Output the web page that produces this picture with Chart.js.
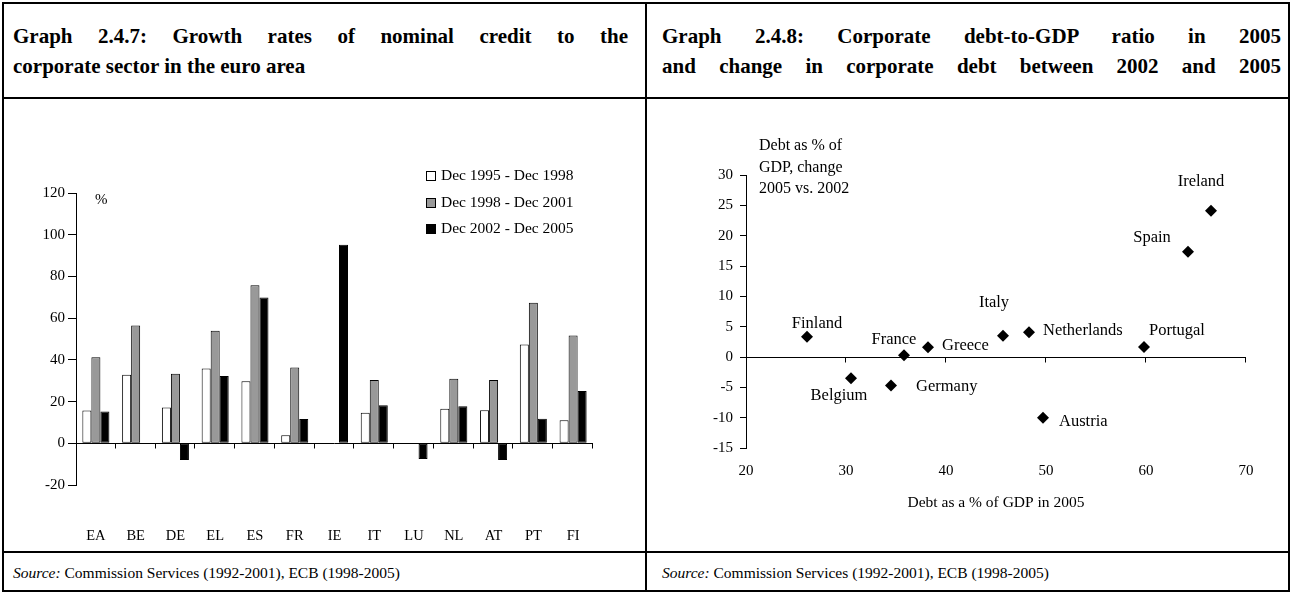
<!DOCTYPE html>
<html>
<head>
<meta charset="utf-8">
<script src="https://cdn.jsdelivr.net/npm/chart.js@4.4.1/dist/chart.umd.min.js"></script>
<style>
  body { margin: 0; width: 1292px; height: 594px; background: #fff; position: relative; overflow: hidden;
         font-family: 'Liberation Serif', 'Times New Roman', serif; color: #000; }
  .line { position: absolute; background: #000; }
  .title { position: absolute; top: 21px; font-weight: bold; font-size: 21px; line-height: 30px; }
  .title div { white-space: nowrap; }
  .title .just { white-space: normal; text-align: justify; text-align-last: justify; }
  .source { position: absolute; top: 564px; font-size: 15.5px; line-height: 18px; white-space: nowrap; }
  canvas { position: absolute; }
</style>
</head>
<body>
<!-- frame -->
<div class="line" style="left:2px;top:2px;width:1288px;height:2px"></div>
<div class="line" style="left:2px;top:590px;width:1288px;height:2px"></div>
<div class="line" style="left:2px;top:2px;width:2px;height:590px"></div>
<div class="line" style="left:1288px;top:2px;width:2px;height:590px"></div>
<div class="line" style="left:645px;top:2px;width:2px;height:590px"></div>
<div class="line" style="left:2px;top:97px;width:1288px;height:2px"></div>
<div class="line" style="left:2px;top:551px;width:1288px;height:2px"></div>

<div class="title" style="left:13px;width:615px">
  <div class="just">Graph 2.4.7: Growth rates of nominal credit to the</div>
  <div>corporate sector in the euro area</div>
</div>
<div class="title" style="left:662px;width:619px">
  <div class="just">Graph 2.4.8: Corporate debt-to-GDP ratio in 2005</div>
  <div class="just">and change in corporate debt between 2002 and 2005</div>
</div>

<canvas id="creditChart" width="640" height="448" style="left:5px;top:100px"></canvas>
<canvas id="debtChart" width="637" height="448" style="left:649px;top:100px"></canvas>

<div class="source" style="left:13px"><i>Source:</i> Commission Services (1992-2001), ECB (1998-2005)</div>
<div class="source" style="left:662px"><i>Source:</i> Commission Services (1992-2001), ECB (1998-2005)</div>

<script>
// ---- Graph 2.4.7 data ----
const categories = ['EA', 'BE', 'DE', 'EL', 'ES', 'FR', 'IE', 'IT', 'LU', 'NL', 'AT', 'PT', 'FI'];
const seriesNames = ['Dec 1995 - Dec 1998', 'Dec 1998 - Dec 2001', 'Dec 2002 - Dec 2005'];
const growth9598 = [15.7, 32.8, 17.1, 35.8, 29.8, 3.8, null, 14.7, null, 16.5, 15.8, 47.4, 11.0];
const growth9801 = [41.3, 56.5, 33.3, 53.9, 75.8, 36.3, null, 30.4, null, 31.0, 30.4, 67.4, 51.7];
const growth0205 = [15.2, null, -8.0, 32.3, 69.9, 11.7, 95.2, 18.2, -7.5, 17.8, -8.0, 11.8, 25.1];
const creditTicks = { min: -20, max: 120, step: 20 };
const creditUnit = '%';

// ---- Graph 2.4.8 data ----
const countries = ['Finland', 'Belgium', 'Germany', 'France', 'Greece', 'Italy', 'Netherlands', 'Austria', 'Portugal', 'Spain', 'Ireland'];
const debtRatio2005 = [26.1, 30.5, 34.5, 35.8, 38.2, 45.7, 48.3, 49.7, 59.8, 64.2, 66.5];
const debtChange = [3.35, -3.5, -4.7, 0.3, 1.6, 3.5, 4.1, -10.0, 1.65, 17.35, 24.1];
const debtXTicks = { min: 20, max: 70, step: 10 };
const debtYTicks = { min: -15, max: 30, step: 5 };
const debtXTitle = 'Debt as a % of GDP in 2005';
const debtYNote = ['Debt as % of', 'GDP, change', '2005 vs. 2002'];

// label placement next to each diamond: [dx, dy, align]
const labelOffsets = [
  [10, -13, 'center'], [-12, 17, 'center'], [25, 1, 'left'], [-10, -16, 'center'],
  [14, -2, 'left'], [-9, -33, 'center'], [14, -1, 'left'], [16, 4, 'left'],
  [5, -16, 'left'], [-36, -14, 'center'], [-10, -29, 'center']
];

const serif = "'Liberation Serif', 'Times New Roman', serif";
Chart.defaults.font.family = serif;
Chart.defaults.color = '#000';

// horizontal axis line through zero, with small marks under it
const zeroAxis = {
  id: 'zeroAxis',
  afterDatasetsDraw(chart) {
    const { ctx, chartArea, scales } = chart;
    const xs = scales.x;
    const y0 = Math.round(scales.y.getPixelForValue(0)) + 0.5;
    let marks;
    if (xs.type === 'category') {
      const half = (xs.getPixelForValue(1) - xs.getPixelForValue(0)) / 2;
      marks = chart.data.labels.map((_, i) => xs.getPixelForValue(i) + half);
    } else {
      marks = xs.ticks.map(t => xs.getPixelForValue(t.value)).filter(x => x > chartArea.left + 1);
    }
    ctx.save();
    ctx.strokeStyle = '#000';
    ctx.lineWidth = 1;
    ctx.beginPath();
    ctx.moveTo(chartArea.left, y0);
    ctx.lineTo(chartArea.right, y0);
    marks.forEach(x => {
      const px = Math.round(x) - 0.5;
      ctx.moveTo(px, y0);
      ctx.lineTo(px, y0 + 5);
    });
    ctx.stroke();
    ctx.restore();
  }
};

const boxLegend = {
  id: 'boxLegend',
  afterDraw(chart) {
    if (chart.canvas.id !== 'creditChart') return;
    const { ctx, chartArea } = chart;
    const x = chartArea.left + 350, y = chartArea.top - 17;
    ctx.save();
    ctx.font = '15.5px ' + serif;
    ctx.textBaseline = 'middle';
    chart.data.datasets.forEach((ds, i) => {
      const yy = Math.round(y + i * 26.5);
      ctx.fillStyle = ds.backgroundColor;
      ctx.fillRect(x, yy - 5, 10, 10);
      ctx.strokeStyle = '#000';
      ctx.lineWidth = 1;
      ctx.strokeRect(x + 0.5, yy - 4.5, 9, 9);
      ctx.fillStyle = '#000';
      ctx.fillText(ds.label, x + 15, yy);
    });
    // unit
    ctx.font = '15px ' + serif;
    ctx.fillText(creditUnit, chartArea.left + 19, chartArea.top + 7);
    ctx.restore();
  }
};

const pointNames = {
  id: 'pointNames',
  afterDatasetsDraw(chart) {
    if (chart.canvas.id !== 'debtChart') return;
    const { ctx, chartArea } = chart;
    const meta = chart.getDatasetMeta(0);
    ctx.save();
    ctx.fillStyle = '#000';
    ctx.font = '16.5px ' + serif;
    ctx.textBaseline = 'middle';
    meta.data.forEach((pt, i) => {
      const [dx, dy, align] = labelOffsets[i];
      ctx.textAlign = align;
      ctx.fillText(countries[i], pt.x + dx, pt.y + dy);
    });
    ctx.textAlign = 'left';
    ctx.font = '16px ' + serif;
    debtYNote.forEach((line, i) => {
      ctx.fillText(line, chartArea.left + 13, chartArea.top - 29 + i * 21.5);
    });
    ctx.restore();
  }
};

new Chart(document.getElementById('creditChart'), {
  type: 'bar',
  data: {
    labels: categories,
    datasets: [
      { label: seriesNames[0], data: growth9598, backgroundColor: '#ffffff' },
      { label: seriesNames[1], data: growth9801, backgroundColor: '#999999' },
      { label: seriesNames[2], data: growth0205, backgroundColor: '#000000' }
    ].map(d => Object.assign(d, { borderColor: '#000', borderWidth: 1, borderSkipped: false }))
  },
  options: {
    responsive: false,
    animation: false,
    devicePixelRatio: 1,
    categoryPercentage: 0.68,
    barPercentage: 1.0,
    layout: { padding: { left: 0, right: 52, top: 93, bottom: 0 } },
    plugins: { legend: { display: false }, tooltip: { enabled: false } },
    scales: {
      x: {
        border: { display: false },
        grid: { display: false },
        ticks: { font: { size: 14.5 }, padding: 34, autoSkip: false, maxRotation: 0 },
        afterFit: s => { s.height = 63; }
      },
      y: {
        min: creditTicks.min, max: creditTicks.max,
        border: { display: true, color: '#000', width: 1 },
        grid: { drawOnChartArea: false, drawTicks: true, tickLength: 8, color: '#000' },
        ticks: { stepSize: creditTicks.step, font: { size: 15 }, padding: 3 },
        afterFit: s => { s.width = 71; }
      }
    }
  },
  plugins: [zeroAxis, boxLegend]
});

new Chart(document.getElementById('debtChart'), {
  type: 'scatter',
  data: {
    datasets: [{
      label: 'countries',
      data: debtRatio2005.map((x, i) => ({ x, y: debtChange[i] })),
      pointStyle: 'rectRot',
      pointRadius: 6,
      backgroundColor: '#000',
      borderColor: '#000',
      borderWidth: 0
    }]
  },
  options: {
    responsive: false,
    animation: false,
    devicePixelRatio: 1,
    layout: { padding: { left: 0, right: 40, top: 75, bottom: 0 } },
    plugins: { legend: { display: false }, tooltip: { enabled: false } },
    scales: {
      x: {
        type: 'linear',
        min: debtXTicks.min, max: debtXTicks.max,
        border: { display: false },
        grid: { display: false },
        ticks: { stepSize: debtXTicks.step, font: { size: 15 }, padding: 6 },
        title: { display: true, text: debtXTitle, font: { size: 15.5 }, padding: { top: 4, bottom: 36 } },
        afterFit: s => { s.height = 100; }
      },
      y: {
        min: debtYTicks.min, max: debtYTicks.max,
        border: { display: true, color: '#000', width: 1 },
        grid: { drawOnChartArea: false, drawTicks: true, tickLength: 6, color: '#000' },
        ticks: { stepSize: debtYTicks.step, font: { size: 15 }, padding: 7 },
        afterFit: s => { s.width = 97; }
      }
    }
  },
  plugins: [zeroAxis, pointNames]
});
</script>
</body>
</html>
